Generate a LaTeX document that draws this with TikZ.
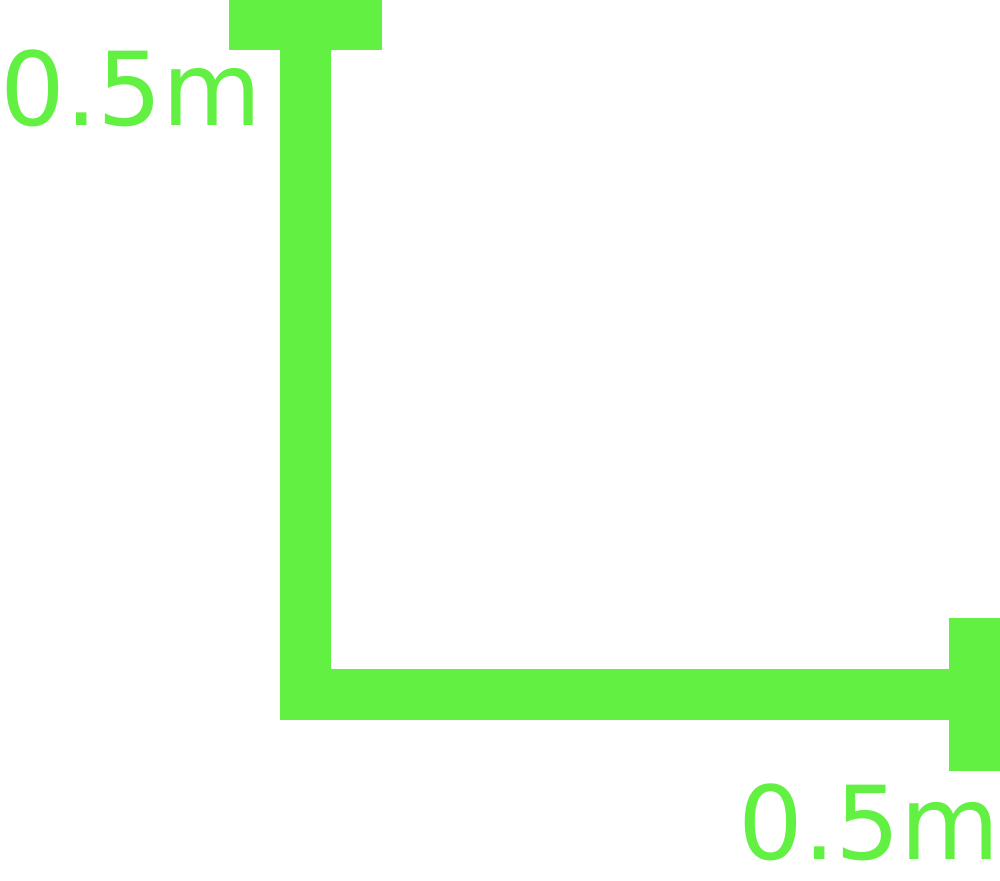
\documentclass[tikz,border=0pt]{standalone}
\usepackage{fontspec}
\setmainfont{DejaVu Sans}
\definecolor{barg}{HTML}{62F042}
\tikzset{
  bar/.style={fill=barg, draw=none},
  lbl/.style={text=barg, inner sep=0pt, font=\fontsize{102}{118}\selectfont}
}
\begin{document}
\begin{tikzpicture}[x=1pt,y=-1pt]
\useasboundingbox (0,0) rectangle (1000,880);
% top cap
\fill[bar] (229,0) rectangle (382,50.5);
% vertical bar
\fill[bar] (280,0) rectangle (331,719.5);
% horizontal bar
\fill[bar] (280,669) rectangle (1000,719.5);
% right cap
\fill[bar] (949,618) rectangle (1000,771);
\node[lbl, anchor=base east] (lv) at (262,125.5) {0.5m};
\node[lbl, anchor=base east] (lh) at (1000,859) {0.5m};
\end{tikzpicture}
\end{document}
